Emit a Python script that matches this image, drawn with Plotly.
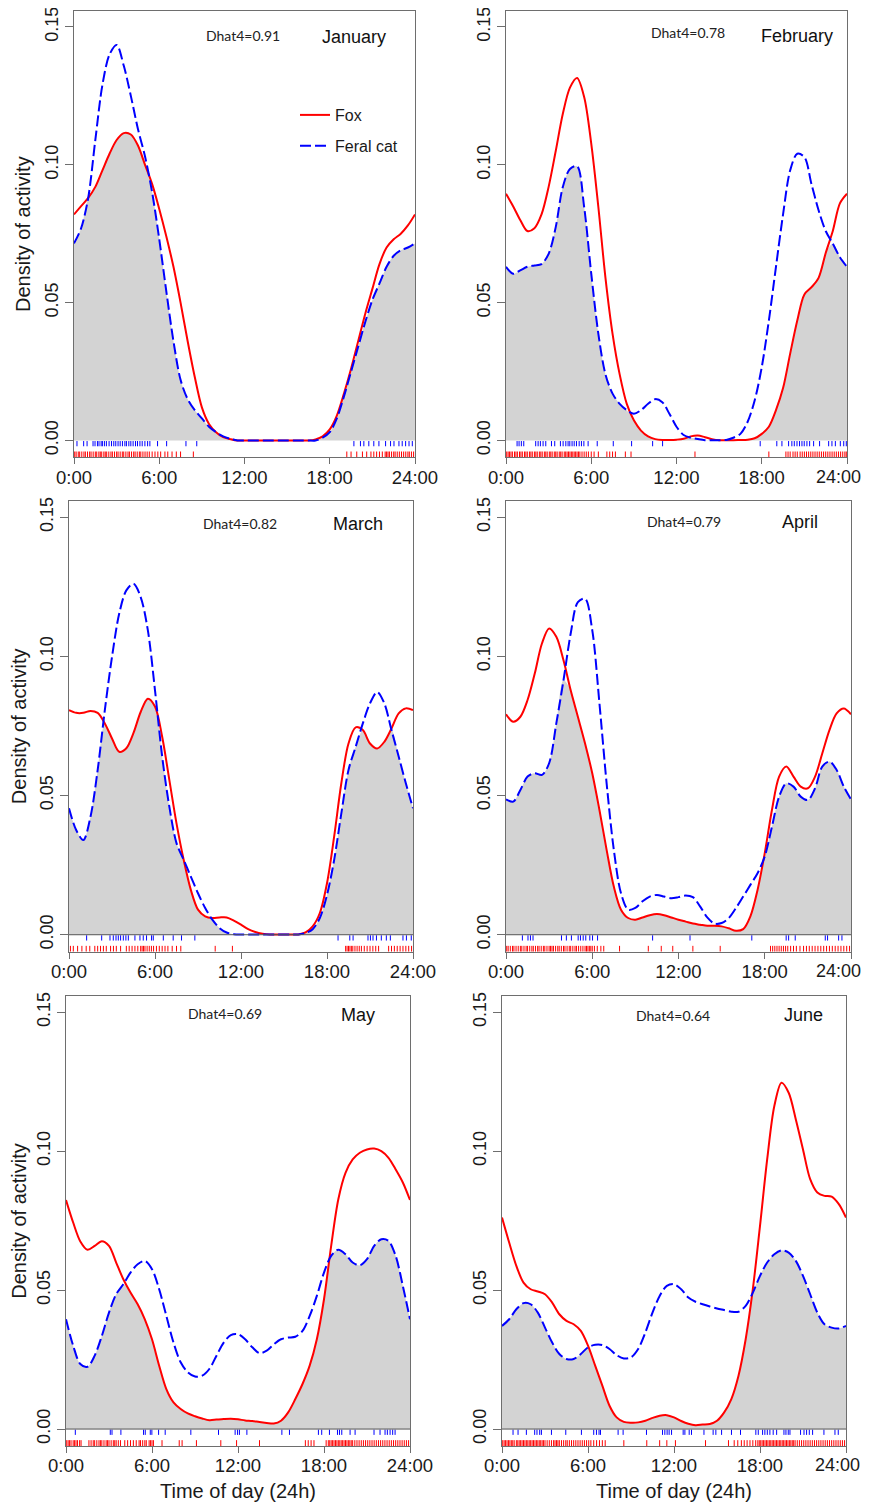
import plotly.graph_objects as go

# ---------------- data ----------------
hours = [0.0, 0.5, 1.0, 1.5, 2.0, 2.5, 3.0, 3.5, 4.0, 4.5, 5.0, 5.5, 6.0, 6.5, 7.0, 7.5,
         8.0, 8.5, 9.0, 9.5, 10.0, 10.5, 11.0, 11.5, 12.0, 12.5, 13.0, 13.5, 14.0, 14.5,
         15.0, 15.5, 16.0, 16.5, 17.0, 17.5, 18.0, 18.5, 19.0, 19.5, 20.0, 20.5, 21.0,
         21.5, 22.0, 22.5, 23.0, 23.5, 24.0]

months = ["January", "February", "March", "April", "May", "June"]
dhat4 = ["0.91", "0.78", "0.82", "0.79", "0.69", "0.64"]
series_names = ["Fox", "Feral cat"]
tick_hours = [0, 6, 12, 18, 24]
tick_hour_labels = ["0:00", "6:00", "12:00", "18:00", "24:00"]
tick_density = [0.0, 0.05, 0.10, 0.15]
tick_density_labels = ["0.00", "0.05", "0.10", "0.15"]

fox_jan = [0.082, 0.085, 0.088, 0.092, 0.098, 0.104, 0.109, 0.1115, 0.111, 0.107, 0.100, 0.093,
           0.084, 0.074, 0.063, 0.050, 0.036, 0.023, 0.012, 0.006, 0.003, 0.0012, 0.0005,
           0, 0, 0, 0, 0, 0, 0, 0, 0, 0, 0,
           0.0004, 0.0015, 0.004, 0.009, 0.017, 0.026, 0.036, 0.046, 0.055, 0.064, 0.070,
           0.073, 0.075, 0.078, 0.082]
cat_jan = [0.0715, 0.077, 0.088, 0.109, 0.129, 0.140, 0.1435, 0.136, 0.125, 0.113, 0.103, 0.090,
           0.073, 0.054, 0.036, 0.022, 0.015, 0.011, 0.008, 0.005, 0.003, 0.0015, 0.0006,
           0, 0, 0, 0, 0, 0, 0, 0, 0, 0, 0, 0,
           0.001, 0.003, 0.008, 0.016, 0.025, 0.034, 0.043, 0.051, 0.057, 0.063, 0.067, 0.069,
           0.070, 0.0715]

fox_feb = [0.0895, 0.085, 0.080, 0.076, 0.077, 0.082, 0.092, 0.105, 0.1185, 0.128, 0.1315, 0.1246,
           0.1077, 0.0847, 0.059, 0.0387, 0.024, 0.0133, 0.0073, 0.0036, 0.0015, 0.0005, 0.0002,
           0.0002, 0.0003, 0.0006, 0.0015, 0.0018, 0.0012, 0.0005, 0.0001, 0.0001, 0.0001, 0.0002,
           0.0003, 0.0008, 0.0024, 0.005, 0.011, 0.019, 0.0315, 0.0435, 0.053, 0.0556, 0.059,
           0.068, 0.076, 0.086, 0.0895]
cat_feb = [0.063, 0.0605, 0.0617, 0.063, 0.0635, 0.064, 0.0677, 0.0774, 0.092, 0.0985, 0.0995, 0.0847,
           0.0605, 0.0387, 0.024, 0.017, 0.0133, 0.011, 0.0097, 0.011, 0.0133, 0.015, 0.0139,
           0.0097, 0.005, 0.002, 0.001, 0.0005, 0.0001, 0.0001, 0.0001, 0.0002, 0.001, 0.0024,
           0.0067, 0.0145, 0.0266, 0.0435, 0.063, 0.082, 0.098, 0.104, 0.1028, 0.093, 0.0835,
           0.076, 0.0714, 0.0665, 0.063]

fox_mar = [0.0807, 0.0797, 0.0797, 0.0804, 0.0797, 0.0759, 0.0705, 0.0657, 0.067, 0.0725, 0.080,
           0.0848, 0.082, 0.0711, 0.0556, 0.040, 0.0269, 0.0161, 0.009, 0.0066, 0.006, 0.0062,
           0.0062, 0.0051, 0.0036, 0.002, 0.001, 0.0004, 0.0001, 0.0001, 0.0001, 0.0001, 0.0001,
           0.0008, 0.003, 0.0078, 0.0185, 0.0353, 0.0544, 0.0687, 0.0745, 0.0735, 0.0687, 0.0669,
           0.0693, 0.0741, 0.0795, 0.0813, 0.0807]
cat_mar = [0.0454, 0.0376, 0.034, 0.0424, 0.0592, 0.0807, 0.0998, 0.1153, 0.1237, 0.1261, 0.1213,
           0.1094, 0.0878, 0.064, 0.046, 0.0329, 0.0269, 0.0209, 0.0149, 0.0096, 0.0054, 0.0024,
           0.0008, 0.0002, 0.0001, 0.0001, 0.0001, 0.0001, 0.0001, 0.0001, 0.0001, 0.0001, 0.0001,
           0.0006, 0.002, 0.006, 0.0143, 0.0269, 0.0436, 0.0592, 0.0675, 0.0759, 0.0831, 0.0872,
           0.0831, 0.0735, 0.064, 0.0544, 0.0454]

fox_apr = [0.0792, 0.0765, 0.0783, 0.0843, 0.0938, 0.1046, 0.110, 0.107, 0.0986, 0.0878, 0.0783,
           0.0687, 0.058, 0.0448, 0.0305, 0.0173, 0.009, 0.006, 0.0054, 0.0062, 0.007, 0.0074,
           0.007, 0.0062, 0.0054, 0.0047, 0.004, 0.0036, 0.0032, 0.0032, 0.003, 0.0023, 0.0014,
           0.002, 0.0066, 0.0161, 0.0293, 0.0448, 0.0568, 0.0604, 0.0568, 0.0532, 0.0526, 0.0568,
           0.0651, 0.0735, 0.0795, 0.0813, 0.0792]
cat_apr = [0.0486, 0.0478, 0.052, 0.0568, 0.058, 0.0574, 0.0616, 0.0759, 0.0914, 0.1082, 0.1195,
           0.1207, 0.1094, 0.0831, 0.0544, 0.0305, 0.0149, 0.009, 0.0096, 0.012, 0.0137, 0.0143,
           0.0137, 0.0131, 0.0135, 0.0141, 0.0135, 0.0102, 0.0062, 0.004, 0.0042, 0.006, 0.0096,
           0.0137, 0.0179, 0.0221, 0.0281, 0.0388, 0.0496, 0.0544, 0.0532, 0.0496, 0.0484, 0.0526,
           0.0604, 0.0622, 0.0592, 0.0532, 0.0486]

fox_may = [0.0824, 0.0743, 0.0675, 0.0645, 0.0659, 0.0676, 0.0659, 0.0599, 0.0539, 0.0491, 0.0449,
           0.0395, 0.0323, 0.0228, 0.0144, 0.0096, 0.0072, 0.0056, 0.0046, 0.0038, 0.0032, 0.0034,
           0.0036, 0.0037, 0.0035, 0.0031, 0.0029, 0.0025, 0.0022, 0.002, 0.003, 0.006, 0.0108,
           0.0162, 0.0228, 0.0323, 0.0467, 0.0659, 0.0827, 0.0922, 0.097, 0.0994, 0.1006, 0.1009,
           0.100, 0.0976, 0.0934, 0.0887, 0.0824]
cat_may = [0.0395, 0.030, 0.0234, 0.0224, 0.0264, 0.0335, 0.0419, 0.0485, 0.0521, 0.0563, 0.0593,
           0.0605, 0.0575, 0.0503, 0.0407, 0.0311, 0.024, 0.0204, 0.0189, 0.0192, 0.0216, 0.0264,
           0.0311, 0.0338, 0.0341, 0.0323, 0.0294, 0.0273, 0.0282, 0.0305, 0.0323, 0.0329, 0.0332,
           0.0353, 0.0407, 0.0479, 0.0563, 0.0623, 0.0645, 0.0629, 0.0599, 0.0589, 0.0611, 0.0659,
           0.0683, 0.0677, 0.0623, 0.0515, 0.0395]

fox_jun = [0.0761, 0.0671, 0.0587, 0.0527, 0.0503, 0.0495, 0.0485, 0.0455, 0.0413, 0.0389, 0.0377,
           0.0353, 0.030, 0.0228, 0.0156, 0.0084, 0.0042, 0.0026, 0.0023, 0.0024, 0.003, 0.004,
           0.0048, 0.005, 0.0042, 0.0029, 0.0019, 0.0014, 0.0016, 0.0018, 0.003, 0.006, 0.0108,
           0.0192, 0.0323, 0.0503, 0.0731, 0.097, 0.1162, 0.1246, 0.121, 0.1114, 0.1006, 0.0899,
           0.0851, 0.0839, 0.0836, 0.0809, 0.0761]
cat_jun = [0.0371, 0.0395, 0.0431, 0.0453, 0.0449, 0.0419, 0.0365, 0.0311, 0.027, 0.0252, 0.0252,
           0.027, 0.0294, 0.0303, 0.0302, 0.0288, 0.0266, 0.0254, 0.0258, 0.0288, 0.0347, 0.0419,
           0.0479, 0.0515, 0.0521, 0.0503, 0.0473, 0.0458, 0.0449, 0.0441, 0.0434, 0.0428, 0.0422,
           0.0422, 0.0443, 0.0491, 0.0551, 0.0599, 0.0629, 0.0643, 0.0635, 0.0605, 0.0551, 0.0485,
           0.0419, 0.0377, 0.0365, 0.0362, 0.0371]

# rug: observed detection times (hours)
rug_cat_jan = [0.21, 0.68, 0.92, 1.34, 1.48, 1.65, 1.76, 1.91, 2.0, 2.14, 2.28, 2.47, 2.64, 2.8, 2.94,
               3.1, 3.25, 3.41, 3.58, 3.69, 3.86, 4.0, 4.16, 4.33, 4.47, 4.64, 4.8, 4.99, 5.18, 5.34,
               5.88, 6.52, 7.88, 8.64, 19.7, 20.16, 20.4, 20.75, 21.1, 21.46, 21.93, 22.28, 22.52,
               22.87, 23.1, 23.34, 23.58, 23.81]
rug_fox_jan = [0.05, 0.15, 0.3, 0.4, 0.55, 0.7, 0.8, 0.95, 1.1, 1.2, 1.35, 1.5, 1.6, 1.75, 1.85, 1.95,
               2.1, 2.2, 2.3, 2.45, 2.6, 2.7, 2.85, 3.0, 3.1, 3.25, 3.4, 3.5, 3.65, 3.8, 3.9, 4.05,
               4.2, 4.3, 4.45, 4.6, 4.7, 4.85, 5.0, 5.15, 5.3, 5.5, 5.7, 5.9, 6.1, 6.4, 6.6, 6.9, 7.2,
               7.5, 8.4, 19.2, 19.5, 19.9, 20.3, 20.6, 20.9, 21.1, 21.3, 21.5, 21.7, 21.9, 22.0, 22.1,
               22.2, 22.35, 22.5, 22.6, 22.75, 22.9, 23.05, 23.2, 23.35, 23.5, 23.6, 23.75, 23.9]
rug_cat_feb = [0.78, 0.92, 1.08, 1.25, 2.09, 2.26, 2.42, 2.61, 2.8, 3.2, 3.43, 3.83, 4.02, 4.21, 4.37,
               4.49, 4.65, 4.8, 4.96, 5.15, 5.31, 5.48, 5.78, 6.42, 7.55, 8.84, 10.32, 11.02, 17.89,
               19.06, 19.42, 19.89, 20.12, 20.29, 20.48, 20.66, 20.83, 20.99, 21.18, 21.37, 21.65,
               22.07, 22.71, 22.94, 23.18, 23.53, 23.77, 23.95]
rug_fox_feb = [0.05, 0.15, 0.25, 0.35, 0.45, 0.6, 0.7, 0.8, 0.95, 1.05, 1.15, 1.3, 1.4, 1.5, 1.65, 1.75,
               1.85, 2.0, 2.1, 2.2, 2.35, 2.45, 2.55, 2.7, 2.8, 2.9, 3.05, 3.15, 3.25, 3.4, 3.5, 3.6,
               3.75, 3.85, 3.95, 4.1, 4.2, 4.3, 4.4, 4.5, 4.6, 4.7, 4.8, 4.9, 5.0, 5.1, 5.2, 5.35, 5.5,
               5.65, 5.8, 6.0, 6.2, 6.5, 7.1, 7.3, 7.5, 7.7, 8.4, 8.8, 13.3, 18.5, 19.7, 19.85, 20.0,
               20.2, 20.35, 20.5, 20.7, 20.85, 21.0, 21.15, 21.3, 21.45, 21.6, 21.75, 21.9, 22.05,
               22.2, 22.35, 22.5, 22.65, 22.8, 22.95, 23.1, 23.25, 23.4, 23.55, 23.7, 23.85, 23.95]
rug_cat_mar = [1.23, 2.28, 2.86, 3.09, 3.28, 3.44, 3.6, 3.79, 3.97, 4.14, 4.6, 4.95, 5.18, 5.41, 5.76,
               5.88, 6.58, 7.27, 7.85, 8.78, 18.77, 19.59, 19.82, 20.86, 21.03, 21.21, 21.45, 21.79,
               22.14, 22.42, 23.3, 23.54, 23.88]
rug_fox_mar = [0.1, 0.3, 0.6, 0.9, 1.2, 1.45, 1.8, 2.0, 2.2, 2.4, 2.6, 2.9, 3.1, 3.3, 3.6, 4.0, 4.2,
               4.4, 4.6, 4.8, 5.0, 5.1, 5.2, 5.3, 5.45, 5.6, 5.75, 5.9, 6.1, 6.3, 6.5, 6.7, 6.9, 7.2,
               7.5, 7.8, 10.2, 11.4, 19.3, 19.4, 19.5, 19.6, 19.7, 19.8, 19.95, 20.1, 20.25, 20.4,
               20.6, 20.8, 21.0, 21.2, 21.4, 21.6, 22.3, 22.5, 22.7, 22.9, 23.1, 23.3, 23.5, 23.7, 23.9]
rug_cat_apr = [1.14, 1.53, 1.7, 1.88, 3.86, 4.2, 4.55, 5.02, 5.18, 5.37, 5.55, 5.83, 6.02, 6.37, 10.2,
               12.8, 17.1, 19.49, 19.66, 20.12, 22.21, 22.37, 23.14, 23.37]
rug_fox_apr = [0.05, 0.15, 0.3, 0.45, 0.55, 0.7, 0.85, 1.0, 1.1, 1.25, 1.4, 1.5, 1.65, 1.8, 1.9, 2.05,
               2.2, 2.3, 2.45, 2.6, 2.7, 2.85, 3.0, 3.1, 3.2, 3.3, 3.45, 3.6, 3.7, 3.85, 4.0, 4.1, 4.25,
               4.4, 4.5, 4.65, 4.8, 4.9, 5.05, 5.2, 5.35, 5.5, 5.6, 5.7, 5.8, 5.9, 6.0, 6.15, 6.35, 6.6,
               6.8, 7.9, 9.9, 10.8, 11.6, 13.0, 14.9, 18.4, 18.55, 18.7, 18.85, 19.0, 19.15, 19.3,
               19.45, 19.6, 19.8, 20.0, 20.2, 20.45, 20.7, 20.9, 21.1, 21.3, 21.5, 21.7, 21.9, 22.1,
               22.3, 22.5, 22.7, 22.9, 23.1, 23.3, 23.5, 23.7, 23.9]
rug_cat_may = [0.65, 3.09, 3.21, 3.83, 5.41, 5.53, 5.88, 5.99, 6.46, 6.92, 8.71, 10.64, 11.8, 11.97,
               12.1, 12.62, 15.06, 15.59, 17.61, 17.84, 18.38, 18.94, 19.08, 19.24, 19.82, 20.17,
               21.49, 21.91, 22.26, 22.42, 22.61, 22.79, 22.96]
rug_fox_may = [0.05, 0.15, 0.25, 0.35, 0.5, 0.6, 0.7, 0.8, 0.95, 1.05, 1.6, 1.75, 1.9, 2.0, 2.15, 2.3,
               2.4, 2.5, 2.65, 2.8, 2.9, 3.0, 3.15, 3.3, 3.4, 3.5, 3.65, 3.8, 4.1, 4.3, 4.5, 4.7, 4.9,
               5.1, 5.2, 5.35, 5.5, 5.6, 5.8, 5.9, 6.0, 6.1, 6.7, 7.9, 8.1, 9.1, 10.8, 11.9, 13.5,
               16.7, 16.9, 17.1, 17.3, 18.15, 18.3, 18.4, 18.5, 18.6, 18.7, 18.8, 18.9, 19.0, 19.1,
               19.2, 19.3, 19.4, 19.5, 19.6, 19.7, 19.8, 19.9, 20.0, 20.15, 20.3, 20.45, 20.6, 20.75,
               20.9, 21.05, 21.2, 21.35, 21.5, 21.65, 21.8, 21.95, 22.1, 22.25, 22.4, 22.55, 22.7,
               22.85, 23.0, 23.15, 23.3, 23.45, 23.6, 23.75, 23.9]
rug_cat_jun = [0.77, 1.12, 1.7, 2.28, 2.44, 2.63, 2.75, 3.45, 4.45, 5.54, 6.4, 6.59, 6.77, 6.87, 8.1,
               8.45, 10.08, 11.2, 11.36, 11.52, 11.66, 11.83, 12.64, 12.76, 13.06, 13.22, 14.09,
               14.73, 14.92, 15.32, 16.01, 16.64, 17.71, 17.88, 18.18, 18.34, 18.51, 18.69, 18.92,
               19.16, 19.67, 19.81, 19.97, 20.09, 20.83, 21.07, 21.25, 21.44, 21.67, 22.46, 23.23,
               23.46]
rug_fox_jun = [0.05, 0.15, 0.25, 0.35, 0.45, 0.55, 0.65, 0.75, 0.85, 1.0, 1.1, 1.2, 1.3, 1.4, 1.5, 1.6,
               1.7, 1.8, 1.9, 2.0, 2.1, 2.2, 2.3, 2.4, 2.5, 2.6, 2.7, 2.8, 2.9, 3.0, 3.15, 3.3, 3.45,
               3.6, 3.7, 3.8, 3.9, 4.0, 4.15, 4.3, 4.45, 4.55, 4.7, 4.85, 5.0, 5.15, 5.3, 5.45, 5.6,
               5.75, 5.9, 6.05, 6.2, 6.4, 6.6, 6.8, 7.0, 7.2, 8.5, 10.1, 11.0, 11.5, 12.1, 14.2, 15.8,
               16.2, 16.45, 16.7, 16.9, 17.1, 17.3, 17.5, 17.7, 17.85, 17.95, 18.05, 18.15, 18.25,
               18.35, 18.45, 18.55, 18.65, 18.75, 18.85, 18.95, 19.05, 19.15, 19.25, 19.35, 19.45,
               19.55, 19.65, 19.75, 19.85, 19.95, 20.05, 20.15, 20.25, 20.35, 20.45, 20.6, 20.75,
               20.9, 21.05, 21.2, 21.35, 21.5, 21.65, 21.8, 21.95, 22.1, 22.25, 22.4, 22.55, 22.7,
               22.85, 23.0, 23.15, 23.3, 23.45, 23.6, 23.75, 23.9]

fox_series = [fox_jan, fox_feb, fox_mar, fox_apr, fox_may, fox_jun]
cat_series = [cat_jan, cat_feb, cat_mar, cat_apr, cat_may, cat_jun]
fox_rugs = [rug_fox_jan, rug_fox_feb, rug_fox_mar, rug_fox_apr, rug_fox_may, rug_fox_jun]
cat_rugs = [rug_cat_jan, rug_cat_feb, rug_cat_mar, rug_cat_apr, rug_cat_may, rug_cat_jun]
for s in fox_series + cat_series:
    assert len(s) == len(hours), len(s)

# ---------------- layout geometry ----------------
# The page body has an 8px margin, so the figure is sized to fit inside the
# 870x1502 window and every position below is given in window pixels.
PAD = 8
W, H = 870 - PAD, 1502 - PAD


def px_x(p):
    return (p - PAD) / W


def px_y(p):
    return 1 - (p - PAD) / H


boxes_px = [  # left, right, top, bottom (window pixels)
    (74, 415, 11, 457.3),
    (506, 847, 11, 457.3),
    (69, 413, 501, 951.7),
    (506, 851, 501, 951.7),
    (66, 410, 996, 1446),
    (502, 846, 996, 1446),
]
dhat_px = [(243, 35), (688, 33), (240, 523), (684, 521), (225, 1013), (673, 1015)]
month_px = [(354, 37), (797, 36), (358, 524), (800, 522), (358, 1015), (803, 1015)]
# right-column "24:00" labels sit slightly inside the page edge in the original
edge_label_px = {1: (838, 477), 3: (838, 971), 5: (837, 1465)}
Y_RANGE = [-0.0061, 0.1558]
RED = "#ff0000"
BLUE = "#0000ff"
BOX = "#6e6e6e"
FONT = "Liberation Sans, Arial, sans-serif"
TICK_FONT = dict(size=18.5, color="#1a1a1a", family=FONT)
EDGE_FONT = dict(size=18, color="#1a1a1a", family=FONT)

fig = go.Figure()
annotations = []
shapes = []

for i in range(6):
    sfx = "" if i == 0 else str(i + 1)
    xa, ya = "x" + sfx, "y" + sfx
    fox, cat = fox_series[i], cat_series[i]
    overlap = [min(a, b) for a, b in zip(fox, cat)]

    fig.add_trace(go.Scatter(x=hours, y=overlap, mode="lines", fill="tozeroy",
                             fillcolor="#d3d3d3", line=dict(width=0, shape="spline", smoothing=0.9),
                             hoverinfo="skip", showlegend=False, xaxis=xa, yaxis=ya))

    # rugs
    rx, ry = [], []
    for t in cat_rugs[i]:
        rx += [t, t, None]
        ry += [-0.0002, -0.0021, None]
    fig.add_trace(go.Scatter(x=rx, y=ry, mode="lines", line=dict(color=BLUE, width=1),
                             hoverinfo="skip", showlegend=False, xaxis=xa, yaxis=ya))
    rx, ry = [], []
    for t in fox_rugs[i]:
        rx += [t, t, None]
        ry += [-0.0040, -0.0061, None]
    fig.add_trace(go.Scatter(x=rx, y=ry, mode="lines", line=dict(color=RED, width=1),
                             hoverinfo="skip", showlegend=False, xaxis=xa, yaxis=ya))

    if i >= 2:
        shapes.append(dict(type="line", xref=xa, yref=ya, x0=0, x1=24, y0=0, y1=0,
                           line=dict(color="#555555", width=1), layer="above"))

    fig.add_trace(go.Scatter(x=hours, y=fox, mode="lines", name=series_names[0],
                             line=dict(color=RED, width=2, shape="spline", smoothing=0.9),
                             legendgroup="fox", showlegend=(i == 0), xaxis=xa, yaxis=ya))
    fig.add_trace(go.Scatter(x=hours, y=cat, mode="lines", name=series_names[1],
                             line=dict(color=BLUE, width=2, dash="11px,4px", shape="spline",
                                       smoothing=0.9),
                             legendgroup="cat", showlegend=(i == 0), xaxis=xa, yaxis=ya))

    labels = list(tick_hour_labels)
    if i in edge_label_px:
        labels[-1] = ""
        ex, ey = edge_label_px[i]
        annotations.append(dict(text=tick_hour_labels[-1], x=px_x(ex), y=px_y(ey), xref="paper",
                                yref="paper", showarrow=False, xanchor="center",
                                yanchor="middle", font=EDGE_FONT))

    l, r, t, b = boxes_px[i]
    xdom = [px_x(l), px_x(r)]
    ydom = [px_y(b), px_y(t)]
    xaxis = dict(domain=xdom, range=[0, 24], tickmode="array", tickvals=tick_hours,
                 ticktext=labels, ticks="outside", ticklen=6, tickcolor=BOX,
                 showline=True, mirror=True, linecolor=BOX, linewidth=1, showgrid=False,
                 zeroline=False, anchor=ya, ticklabeloverflow="allow", ticklabelstandoff=-3,
                 tickfont=TICK_FONT)
    yaxis = dict(domain=ydom, range=Y_RANGE, tickmode="array", tickvals=tick_density,
                 ticktext=tick_density_labels, tickangle=-90, ticks="outside", ticklen=8,
                 tickcolor=BOX, showline=True, mirror=True, linecolor=BOX, linewidth=1,
                 showgrid=False, zeroline=False, anchor=xa, ticklabeloverflow="allow",
                 tickfont=dict(size=18, color="#1a1a1a", family=FONT))
    if i % 2 == 0:
        yaxis["title"] = dict(text="Density of activity", font=dict(size=20, color="#1a1a1a",
                                                                     family=FONT), standoff=5)
    if i >= 4:
        xaxis["title"] = dict(text="Time of day (24h)", font=dict(size=20, color="#1a1a1a",
                                                                   family=FONT), standoff=10)
    fig.update_layout(**{"xaxis" + sfx: xaxis, "yaxis" + sfx: yaxis})

    dx, dy = dhat_px[i]
    annotations.append(dict(text="Dhat4=" + dhat4[i], x=px_x(dx), y=px_y(dy), xref="paper",
                            yref="paper", showarrow=False, xanchor="center", yanchor="middle",
                            font=dict(size=14, family="Lato, Carlito, sans-serif", color="#222222")))
    mx, my = month_px[i]
    annotations.append(dict(text=months[i], x=px_x(mx), y=px_y(my), xref="paper", yref="paper",
                            showarrow=False, xanchor="center", yanchor="middle",
                            font=dict(size=18, family=FONT, color="#111111")))

fig.update_layout(
    width=W, height=H, margin=dict(l=0, r=0, t=0, b=0),
    paper_bgcolor="white", plot_bgcolor="white", template="none",
    font=dict(family=FONT, color="#1a1a1a"),
    annotations=annotations, shapes=shapes,
    showlegend=True,
    legend=dict(x=px_x(295), y=px_y(98), xanchor="left", yanchor="top",
                bgcolor="rgba(0,0,0,0)", borderwidth=0, tracegroupgap=7,
                font=dict(size=16, family=FONT, color="#1a1a1a")),
)

fig.write_html("out.html")
